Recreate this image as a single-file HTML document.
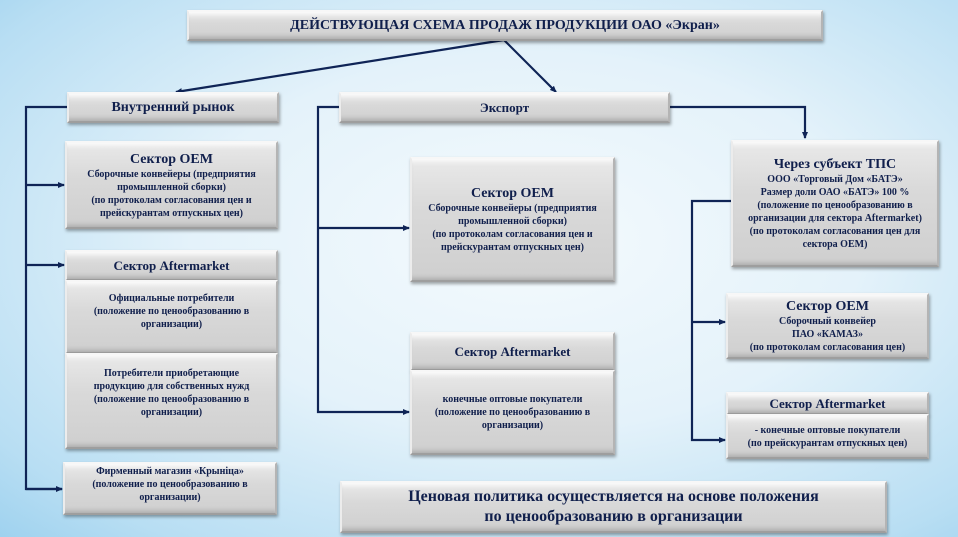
<!DOCTYPE html>
<html><head><meta charset="utf-8"><style>
body{margin:0;width:958px;height:537px;overflow:hidden;position:relative;
background:radial-gradient(ellipse at 55% 45%,#f4fafd 0%,#e4f2fa 45%,#b8def3 85%,#9fd2ef 100%);
font-family:"Liberation Serif",serif;font-weight:bold;color:#101f4c}
.b{position:absolute;box-sizing:border-box;text-align:center;
background:linear-gradient(180deg,#e9e9e9 0%,#d9d9d9 40%,#cfcfcf 100%);
border-top:2px solid #f7f7f7;border-left:2px solid #ececec;border-right:2px solid #b4b4b4;border-bottom:2px solid #9e9e9e;
box-shadow:1px 2px 3px rgba(0,0,0,.35), inset 0 6px 6px -4px #fff, inset 0 -5px 5px -3px #aaa;
font-size:10px;line-height:13px;display:flex;flex-direction:column;justify-content:center}
.h{font-size:14px;line-height:17px}
svg{position:absolute;left:0;top:0}
</style></head><body>
<svg width="958" height="537">
<defs><marker id="a" markerUnits="userSpaceOnUse" markerWidth="7" markerHeight="6" refX="6" refY="3" orient="auto"><path d="M0,0L7,3L0,6z" fill="#0f2456"/></marker></defs>
<g stroke="#0f2456" stroke-width="2.2" fill="none">
<path d="M504,40L176,92" marker-end="url(#a)"/>
<path d="M504,40L556,92" marker-end="url(#a)"/>
<path d="M67,107H26V489H62" /><path d="M26,185H64" marker-end="url(#a)"/><path d="M26,265H64" marker-end="url(#a)"/><path d="M26,489H62" marker-end="url(#a)"/>
<path d="M339,107H318V412H409" marker-end="url(#a)"/><path d="M318,228H409" marker-end="url(#a)"/>
<path d="M669,107H805V138" marker-end="url(#a)"/>
<path d="M731,201H692V440H725" marker-end="url(#a)"/><path d="M692,322H725" marker-end="url(#a)"/>
</g></svg>
<div class="b" style="left:187px;top:10px;width:636px;height:31px;font-size:14px">ДЕЙСТВУЮЩАЯ СХЕМА ПРОДАЖ ПРОДУКЦИИ ОАО «Экран»</div>
<div class="b h" style="left:67px;top:92px;width:212px;height:31px">Внутренний рынок</div>
<div class="b" style="left:339px;top:92px;width:331px;height:31px;font-size:13px">Экспорт</div>
<div class="b" style="left:65px;top:141px;width:213px;height:88px"><div class="h">Сектор OEM</div>Сборочные конвейеры (предприятия<br>промышленной сборки)<br>(по протоколам согласования цен и<br>прейскурантам отпускных цен)</div>
<div class="b h" style="left:65px;top:250px;width:213px;height:31px;font-size:13px">Сектор Aftermarket</div>
<div class="b" style="left:65px;top:280px;width:213px;height:74px;justify-content:flex-start;padding-top:10px">Официальные потребители<br>(положение по ценообразованию в<br>организации)</div>
<div class="b" style="left:65px;top:353px;width:213px;height:96px;justify-content:flex-start;padding-top:12px">Потребители приобретающие<br>продукцию для собственных нужд<br>(положение по ценообразованию в<br>организации)</div>
<div class="b" style="left:63px;top:462px;width:214px;height:53px;justify-content:flex-start;padding-top:1px">Фирменный магазин «Крыніца»<br>(положение по ценообразованию в<br>организации)</div>
<div class="b" style="left:410px;top:157px;width:205px;height:125px"><div class="h">Сектор OEM</div>Сборочные конвейеры (предприятия<br>промышленной сборки)<br>(по протоколам согласования цен и<br>прейскурантам отпускных цен)</div>
<div class="b" style="left:410px;top:332px;width:205px;height:39px;font-size:13px">Сектор Aftermarket</div>
<div class="b" style="left:410px;top:370px;width:205px;height:85px">конечные оптовые покупатели<br>(положение по ценообразованию в<br>организации)</div>
<div class="b" style="left:731px;top:140px;width:208px;height:127px"><div class="h">Через субъект ТПС</div>ООО «Торговый Дом «БАТЭ»<br>Размер доли ОАО «БАТЭ» 100 %<br>(положение по ценообразованию в<br>организации для сектора Aftermarket)<br>(по протоколам согласования цен для<br>сектора OEM)</div>
<div class="b" style="left:726px;top:293px;width:203px;height:66px"><div class="h">Сектор OEM</div>Сборочный конвейер<br>ПАО «КАМАЗ»<br>(по протоколам согласования цен)</div>
<div class="b" style="left:726px;top:392px;width:203px;height:23px;font-size:13px">Сектор Aftermarket</div>
<div class="b" style="left:726px;top:414px;width:203px;height:45px">- конечные оптовые покупатели<br>(по прейскурантам отпускных цен)</div>
<div class="b" style="left:340px;top:481px;width:547px;height:52px;font-size:16px;line-height:20px">Ценовая политика осуществляется на основе положения<br>по ценообразованию в организации</div>
</body></html>
